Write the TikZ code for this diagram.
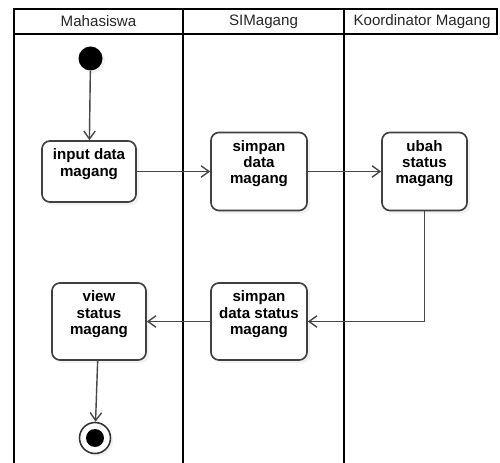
\documentclass[tikz,border=0pt]{standalone}
\usepackage{fontspec}
\setmainfont{Liberation Sans}
\usetikzlibrary{arrows.meta,shadows}
\begin{document}
\begin{tikzpicture}[x=0.2mm, y=-0.2mm,
    lane/.style={line width=1.2pt, black},
    act/.style={draw=black!75, line width=.95pt, rounded corners=4.5pt, fill=white, inner sep=0pt,
      drop shadow={shadow xshift=1.8pt, shadow yshift=-1.8pt, opacity=.1}},
    txt/.style={anchor=north, yshift=-1.5pt, align=center, text=black,
      font=\fontsize{8.6}{9.2}\selectfont\bfseries},
    hd/.style={font=\fontsize{8.6}{10}\selectfont, text=black!85},
    arr/.style={draw=black!72, line width=.8pt, -{Straight Barb[length=4.5pt,width=6.5pt]}}]

      \useasboundingbox (0, 0) rectangle (500, 463);

      % swimlanes
      \draw[lane](14, 9) rectangle (497, 34);
      \draw[lane](14, 9) to (14, 463);
      \draw[lane](183, 9) to (183, 463);
      \draw[lane](344, 9) to (344, 463);
      \node[hd] at(98.5, 21.5)(mhs){Mahasiswa};
      \node[hd] at(263.5, 21.5)(sim){SIMagang};
      \node[hd] at(422, 21.5)(kor){Koordinator Magang};

      % activities
      \node[circle, fill=black, minimum size=4.8mm, inner sep=0pt,
        drop shadow={shadow xshift=1.5pt, shadow yshift=-1.5pt, opacity=.1}] at(90.5, 58.5)(start){};
      \node[act, minimum width=18.8mm, minimum height=12.2mm,
        label={[txt]north:{input data\\magang}}] at(89, 171.5)(input){};
      \node[act, minimum width=19.2mm, minimum height=15.6mm,
        label={[txt]north:{simpan\\data\\magang}}] at(259, 171.5)(simpan){};
      \node[act, minimum width=17mm, minimum height=15.6mm,
        label={[txt]north:{ubah\\status\\magang}}] at(424.5, 171.5)(ubah){};
      \node[act, minimum width=19.2mm, minimum height=15.4mm,
        label={[txt]north:{simpan\\data status\\magang}}] at(259, 321.5)(simpanstatus){};
      \node[act, minimum width=18.8mm, minimum height=15.4mm,
        label={[txt]north:{view\\status\\magang}}] at(99, 321.5)(view){};
      \node[circle, draw=black!80, line width=.9pt, fill=white, minimum size=6.2mm, inner sep=0pt,
        drop shadow={shadow xshift=1.5pt, shadow yshift=-1.5pt, opacity=.1}] at(95, 438)(end){};
      \node[circle, fill=black, minimum size=3.6mm, inner sep=0pt] at(end)(enddot){};

      % flows
      \draw[arr](start) to (input);
      \draw[arr](input) to (simpan);
      \draw[arr](simpan) to (ubah);
      \draw[arr](ubah) |- (simpanstatus);
      \draw[arr](simpanstatus) to (view);
      \draw[arr](view) to (end);
      \end{tikzpicture}
\end{document}
